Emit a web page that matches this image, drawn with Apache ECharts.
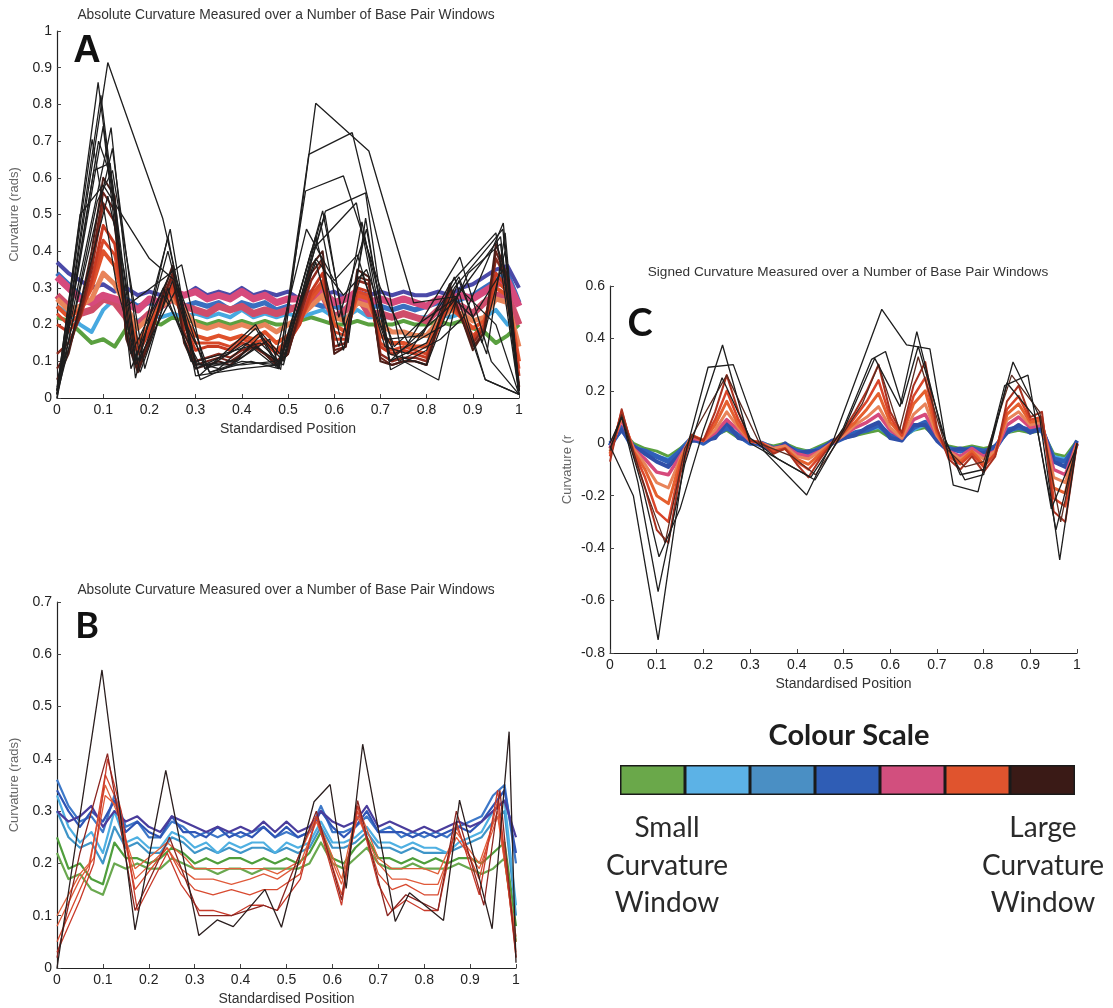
<!DOCTYPE html>
<html><head><meta charset="utf-8">
<script src="https://cdn.jsdelivr.net/npm/echarts@6/dist/echarts.min.js"></script>
<style>html,body{margin:0;padding:0;background:#fff}#c{width:1113px;height:1008px}</style>
</head><body><div id="c"></div>
<script>
// ---------- shared sampling positions (standardised position) ----------
const X41 = [0,0.025,0.05,0.075,0.1,0.125,0.15,0.175,0.2,0.225,0.25,0.275,0.3,0.325,0.35,0.375,0.4,0.425,0.45,0.475,0.5,0.525,0.55,0.575,0.6,0.625,0.65,0.675,0.7,0.725,0.75,0.775,0.8,0.825,0.85,0.875,0.9,0.925,0.95,0.975,1];

// ---------- Panel A: absolute curvature ----------
const A_green = [0.22,0.21,0.18,0.15,0.16,0.14,0.19,0.20,0.21,0.20, 0.22,0.21,0.21,0.20,0.21,0.20,0.21,0.20,0.21,0.20, 0.20,0.21,0.22,0.21,0.20,0.20,0.21,0.20,0.20,0.20, 0.21,0.20,0.20,0.21,0.20,0.21,0.19,0.18,0.15,0.17, 0.20];
const A_lblue = [0.25,0.23,0.20,0.18,0.24,0.27,0.22,0.21,0.23,0.22, 0.23,0.22,0.23,0.22,0.23,0.22,0.24,0.22,0.23,0.22, 0.23,0.22,0.23,0.24,0.22,0.22,0.24,0.22,0.22,0.22, 0.23,0.22,0.22,0.23,0.22,0.23,0.21,0.22,0.24,0.20, 0.22];
const A_blue = [0.34,0.31,0.28,0.26,0.27,0.26,0.27,0.25,0.26,0.25, 0.27,0.25,0.26,0.25,0.26,0.24,0.26,0.25,0.26,0.24, 0.25,0.24,0.26,0.25,0.25,0.24,0.26,0.25,0.25,0.24, 0.25,0.24,0.25,0.26,0.25,0.27,0.28,0.30,0.32,0.34, 0.26];
const A_purple = [0.37,0.34,0.32,0.30,0.31,0.29,0.30,0.28,0.29,0.28, 0.30,0.28,0.30,0.28,0.29,0.28,0.30,0.28,0.29,0.28, 0.29,0.27,0.29,0.28,0.29,0.27,0.29,0.28,0.29,0.28, 0.29,0.28,0.28,0.29,0.28,0.30,0.31,0.33,0.35,0.36, 0.30];
const A_pink1 = [0.33,0.30,0.27,0.26,0.28,0.27,0.26,0.24,0.27,0.26, 0.29,0.28,0.29,0.27,0.28,0.27,0.29,0.27,0.28,0.26, 0.27,0.27,0.28,0.29,0.26,0.27,0.29,0.26,0.27,0.26, 0.27,0.26,0.25,0.27,0.27,0.28,0.27,0.29,0.31,0.32, 0.25];
const A_pink2 = [0.28,0.25,0.23,0.24,0.27,0.26,0.22,0.20,0.23,0.25, 0.27,0.25,0.24,0.23,0.25,0.24,0.25,0.23,0.24,0.23, 0.24,0.25,0.27,0.28,0.22,0.24,0.28,0.23,0.23,0.22, 0.23,0.22,0.21,0.24,0.25,0.25,0.23,0.26,0.28,0.28, 0.20];
const A_salmon = [0.27,0.24,0.25,0.27,0.34,0.31,0.25,0.19,0.22,0.25, 0.27,0.24,0.20,0.19,0.20,0.19,0.20,0.19,0.20,0.18, 0.20,0.22,0.25,0.28,0.22,0.21,0.26,0.25,0.20,0.18, 0.18,0.17,0.17,0.21,0.24,0.23,0.21,0.22,0.27,0.26, 0.14];
const A_red1 = [0.25,0.22,0.24,0.30,0.40,0.36,0.24,0.15,0.20,0.26, 0.29,0.22,0.17,0.16,0.17,0.16,0.17,0.16,0.18,0.15, 0.17,0.21,0.27,0.31,0.20,0.18,0.28,0.27,0.17,0.15, 0.15,0.14,0.14,0.20,0.25,0.22,0.19,0.21,0.30,0.28, 0.10];
const A_red1b = [0.23,0.20,0.23,0.31,0.43,0.39,0.23,0.13,0.19,0.25, 0.30,0.21,0.15,0.15,0.15,0.14,0.16,0.15,0.16,0.13, 0.16,0.20,0.28,0.32,0.18,0.17,0.29,0.28,0.15,0.13, 0.14,0.13,0.12,0.19,0.26,0.22,0.17,0.20,0.32,0.29, 0.08];
const A_red2 = [0.20,0.18,0.22,0.32,0.47,0.42,0.22,0.12,0.18,0.25, 0.31,0.20,0.13,0.14,0.14,0.13,0.15,0.14,0.15,0.12, 0.15,0.20,0.29,0.34,0.16,0.16,0.30,0.29,0.14,0.12, 0.13,0.12,0.11,0.19,0.27,0.22,0.16,0.20,0.34,0.30, 0.06];
const A_red3 = [0.12,0.15,0.22,0.35,0.53,0.48,0.18,0.09,0.16,0.26, 0.33,0.18,0.10,0.11,0.12,0.11,0.13,0.14,0.12,0.10, 0.13,0.22,0.32,0.37,0.14,0.15,0.32,0.31,0.12,0.10, 0.11,0.11,0.10,0.20,0.29,0.22,0.15,0.19,0.38,0.32, 0.03];
const A_dred = [0.08,0.13,0.23,0.37,0.56,0.51,0.17,0.08,0.15,0.26, 0.34,0.16,0.09,0.10,0.11,0.10,0.12,0.14,0.12,0.09, 0.12,0.23,0.34,0.38,0.13,0.14,0.33,0.32,0.11,0.09, 0.10,0.10,0.09,0.20,0.30,0.22,0.14,0.18,0.40,0.32, 0.02];
const A_brown = [0.05,0.12,0.25,0.40,0.60,0.55,0.16,0.07,0.15,0.27, 0.36,0.15,0.08,0.09,0.10,0.09,0.12,0.15,0.12,0.09, 0.12,0.24,0.36,0.40,0.12,0.14,0.35,0.33,0.10,0.09, 0.10,0.10,0.09,0.20,0.31,0.22,0.13,0.18,0.42,0.33, 0.02];
const A_black = [
  [[0,0.01],[0.11,0.914],[0.229,0.489],[0.307,0.06],[0.43,0.2],[0.484,0.077],[0.56,0.803],[0.675,0.673],[0.772,0.259],[0.866,0.277],[0.927,0.05],[1,0.01]],
  [[0,0.02],[0.089,0.86],[0.15,0.25],[0.27,0.363],[0.32,0.08],[0.41,0.15],[0.48,0.08],[0.545,0.664],[0.639,0.723],[0.70,0.40],[0.75,0.10],[0.826,0.049],[0.87,0.30],[0.95,0.2],[1,0.01]],
  [[0,0.01],[0.095,0.825],[0.17,0.054],[0.24,0.44],[0.3,0.06],[0.4,0.08],[0.48,0.09],[0.538,0.564],[0.62,0.605],[0.7,0.3],[0.76,0.15],[0.872,0.384],[0.94,0.1],[1,0.01]],
  [[0,0.02],[0.076,0.705],[0.13,0.3],[0.18,0.07],[0.25,0.32],[0.31,0.05],[0.38,0.09],[0.44,0.17],[0.49,0.1],[0.581,0.509],[0.668,0.559],[0.72,0.1],[0.8,0.15],[0.86,0.33],[0.927,0.05],[1,0.01]],
  [[0,0.01],[0.10,0.741],[0.16,0.08],[0.23,0.3],[0.3,0.08],[0.37,0.12],[0.43,0.19],[0.48,0.08],[0.55,0.4],[0.648,0.532],[0.70,0.2],[0.74,0.1],[0.83,0.16],[0.88,0.22],[0.966,0.477],[1,0.01]],
  [[0,0.03],[0.117,0.737],[0.17,0.1],[0.245,0.46],[0.28,0.2],[0.33,0.07],[0.42,0.1],[0.48,0.08],[0.575,0.51],[0.63,0.15],[0.668,0.49],[0.722,0.077],[0.8,0.13],[0.86,0.3],[0.965,0.46],[1,0.02]],
  [[0,0.0],[0.087,0.536],[0.12,0.62],[0.19,0.08],[0.24,0.3],[0.29,0.1],[0.35,0.08],[0.44,0.18],[0.49,0.11],[0.58,0.5],[0.62,0.2],[0.66,0.48],[0.72,0.1],[0.78,0.17],[0.85,0.25],[0.96,0.44],[1,0.02]],
  [[0,0.02],[0.05,0.5],[0.1,0.58],[0.2,0.38],[0.255,0.32],[0.3,0.09],[0.4,0.09],[0.47,0.1],[0.54,0.46],[0.6,0.32],[0.65,0.39],[0.71,0.14],[0.76,0.12],[0.87,0.33],[0.92,0.15],[0.97,0.4],[1,0.03]],
  [[0,0.01],[0.09,0.7],[0.12,0.59],[0.17,0.09],[0.26,0.3],[0.32,0.08],[0.4,0.11],[0.46,0.16],[0.48,0.09],[0.56,0.44],[0.62,0.13],[0.665,0.44],[0.73,0.12],[0.84,0.2],[0.89,0.34],[0.96,0.42],[1,0.01]],
  [[0,0.02],[0.12,0.68],[0.18,0.1],[0.23,0.28],[0.31,0.09],[0.39,0.1],[0.43,0.14],[0.49,0.09],[0.57,0.48],[0.61,0.22],[0.67,0.46],[0.72,0.12],[0.8,0.09],[0.87,0.32],[0.93,0.12],[0.97,0.45],[1,0.02]],
  [[0,0.01],[0.11,0.55],[0.145,0.35],[0.175,0.1],[0.24,0.4],[0.3,0.1],[0.36,0.12],[0.44,0.15],[0.48,0.1],[0.56,0.38],[0.62,0.28],[0.67,0.35],[0.73,0.14],[0.78,0.2],[0.86,0.27],[0.9,0.22],[0.965,0.35],[1,0.04]],
  [[0,0.0],[0.08,0.62],[0.115,0.64],[0.16,0.12],[0.25,0.35],[0.33,0.07],[0.4,0.1],[0.48,0.09],[0.56,0.37],[0.61,0.14],[0.66,0.34],[0.71,0.16],[0.79,0.17],[0.85,0.31],[0.95,0.45],[1,0.01]]
];

// ---------- Panel B: absolute curvature ----------
const B_green2 = [0.22,0.17,0.18,0.15,0.14,0.20,0.19,0.20,0.19,0.19, 0.21,0.20,0.19,0.19,0.18,0.19,0.19,0.18,0.19,0.19, 0.19,0.19,0.20,0.24,0.20,0.19,0.21,0.23,0.20,0.19, 0.19,0.20,0.19,0.19,0.19,0.20,0.19,0.18,0.19,0.21, 0.05];
const B_green1 = [0.25,0.19,0.20,0.17,0.16,0.24,0.21,0.21,0.20,0.21, 0.23,0.22,0.20,0.21,0.20,0.21,0.21,0.20,0.21,0.20, 0.21,0.20,0.22,0.26,0.21,0.20,0.23,0.25,0.21,0.21, 0.20,0.21,0.20,0.21,0.20,0.21,0.21,0.20,0.22,0.24, 0.08];
const B_teal = [0.30,0.25,0.23,0.24,0.20,0.27,0.23,0.24,0.22,0.22, 0.25,0.24,0.22,0.23,0.22,0.23,0.22,0.23,0.23,0.22, 0.23,0.22,0.23,0.27,0.23,0.23,0.24,0.26,0.23,0.23, 0.22,0.23,0.22,0.22,0.22,0.23,0.24,0.25,0.28,0.30, 0.10];
const B_lblue = [0.33,0.27,0.24,0.26,0.22,0.30,0.24,0.25,0.23,0.23, 0.26,0.25,0.23,0.24,0.22,0.24,0.23,0.24,0.24,0.22, 0.24,0.23,0.24,0.28,0.24,0.24,0.25,0.27,0.24,0.24, 0.23,0.24,0.23,0.23,0.22,0.24,0.25,0.26,0.30,0.32, 0.12];
const B_blue2 = [0.36,0.31,0.28,0.29,0.26,0.33,0.27,0.28,0.25,0.25, 0.28,0.27,0.25,0.26,0.25,0.26,0.25,0.26,0.27,0.25, 0.26,0.25,0.26,0.31,0.26,0.26,0.27,0.29,0.26,0.27, 0.25,0.26,0.25,0.26,0.25,0.27,0.28,0.29,0.33,0.35, 0.20];
const B_blue = [0.34,0.30,0.27,0.30,0.28,0.32,0.26,0.28,0.26,0.25, 0.29,0.26,0.26,0.25,0.27,0.25,0.26,0.25,0.27,0.25, 0.27,0.25,0.26,0.30,0.27,0.25,0.27,0.30,0.26,0.26, 0.26,0.25,0.26,0.25,0.26,0.27,0.26,0.28,0.31,0.34, 0.22];
const B_purple = [0.30,0.28,0.29,0.31,0.27,0.30,0.28,0.29,0.27,0.26, 0.29,0.28,0.27,0.26,0.27,0.26,0.27,0.26,0.28,0.26, 0.28,0.26,0.27,0.30,0.28,0.27,0.28,0.31,0.27,0.28, 0.27,0.26,0.27,0.26,0.27,0.28,0.27,0.28,0.30,0.32, 0.25];
const B_red1 = [[0,0.10],[0.05,0.18],[0.07,0.20],[0.105,0.35],[0.13,0.30],[0.17,0.19],[0.24,0.24],[0.28,0.21],[0.3,0.19],[0.34,0.19],[0.38,0.19],[0.42,0.19],[0.45,0.19],[0.48,0.18],[0.52,0.20],[0.565,0.29],[0.62,0.17],[0.655,0.31],[0.7,0.21],[0.73,0.19],[0.76,0.19],[0.8,0.19],[0.83,0.18],[0.87,0.26],[0.92,0.20],[0.96,0.30],[1,0.05]];
const B_red2 = [[0,0.05],[0.05,0.15],[0.07,0.19],[0.105,0.37],[0.13,0.32],[0.17,0.15],[0.24,0.23],[0.27,0.18],[0.3,0.15],[0.34,0.14],[0.38,0.15],[0.42,0.14],[0.45,0.15],[0.48,0.15],[0.53,0.18],[0.565,0.29],[0.62,0.14],[0.655,0.30],[0.7,0.18],[0.73,0.15],[0.76,0.16],[0.8,0.14],[0.83,0.14],[0.87,0.27],[0.92,0.17],[0.96,0.32],[1,0.03]];
const B_red3 = [[0,0.03],[0.05,0.13],[0.08,0.20],[0.11,0.40],[0.14,0.30],[0.175,0.11],[0.24,0.22],[0.27,0.16],[0.31,0.11],[0.34,0.11],[0.38,0.10],[0.42,0.12],[0.45,0.12],[0.48,0.11],[0.53,0.17],[0.565,0.29],[0.62,0.12],[0.655,0.31],[0.7,0.16],[0.73,0.11],[0.76,0.13],[0.8,0.11],[0.83,0.11],[0.87,0.28],[0.92,0.14],[0.96,0.34],[1,0.02]];
const B_red4 = [[0,0.08],[0.05,0.17],[0.08,0.21],[0.105,0.33],[0.13,0.31],[0.17,0.17],[0.24,0.23],[0.27,0.19],[0.3,0.17],[0.34,0.17],[0.38,0.16],[0.42,0.17],[0.45,0.18],[0.48,0.17],[0.53,0.20],[0.565,0.28],[0.62,0.16],[0.655,0.29],[0.7,0.20],[0.73,0.17],[0.76,0.17],[0.8,0.16],[0.83,0.16],[0.87,0.25],[0.92,0.19],[0.96,0.29],[1,0.06]];
const B_dred = [[0,0.02],[0.05,0.22],[0.11,0.41],[0.17,0.11],[0.245,0.25],[0.31,0.10],[0.38,0.10],[0.45,0.12],[0.48,0.11],[0.565,0.30],[0.62,0.13],[0.655,0.32],[0.72,0.10],[0.76,0.14],[0.83,0.11],[0.87,0.30],[0.93,0.12],[0.965,0.34],[1,0.02]];
const B_black = [[0,0.0],[0.098,0.57],[0.17,0.073],[0.237,0.378],[0.309,0.062],[0.349,0.092],[0.384,0.079],[0.453,0.15],[0.489,0.078],[0.56,0.318],[0.595,0.351],[0.63,0.152],[0.666,0.428],[0.737,0.089],[0.768,0.144],[0.842,0.091],[0.877,0.321],[0.948,0.075],[0.985,0.452],[1,0.01]];

// ---------- Panel C: signed curvature ----------
const C_green = [0.00,0.05,0.00,-0.02,-0.03,-0.05,-0.02,0.02,0.01,0.03, 0.05,0.02,0.01,0.00,-0.01,0.00,-0.02,-0.03,-0.01,0.01, 0.02,0.03,0.04,0.05,0.02,0.02,0.05,0.06,0.02,-0.01, -0.02,-0.01,-0.02,-0.01,0.04,0.05,0.04,0.05,-0.04,-0.05, 0.01];
const C_lblue = [-0.01,0.05,-0.01,-0.03,-0.05,-0.06,-0.03,0.02,0.01,0.03, 0.06,0.03,0.00,0.00,-0.02,-0.01,-0.03,-0.03,-0.02,0.00, 0.02,0.04,0.05,0.06,0.03,0.02,0.05,0.07,0.02,-0.02, -0.03,-0.02,-0.03,-0.02,0.04,0.06,0.05,0.05,-0.05,-0.06, 0.00];
const C_blue = [-0.01,0.06,-0.02,-0.03,-0.05,-0.07,-0.03,0.02,0.00,0.03, 0.06,0.03,0.00,0.00,-0.02,-0.01,-0.03,-0.04,-0.02,0.00, 0.02,0.04,0.05,0.07,0.03,0.02,0.06,0.08,0.02,-0.02, -0.03,-0.02,-0.03,-0.02,0.05,0.06,0.05,0.05,-0.06,-0.07, 0.00];
const C_blue2 = [0.00,0.05,-0.01,-0.04,-0.07,-0.09,-0.04,0.01,0.01,0.02, 0.08,0.02,0.01,-0.01,-0.03,0.00,-0.04,-0.03,-0.03,0.01, 0.02,0.03,0.06,0.08,0.02,0.01,0.07,0.07,0.01,-0.03, -0.02,-0.03,-0.04,-0.01,0.04,0.07,0.04,0.06,-0.07,-0.09, 0.01];
const C_pink = [-0.02,0.09,-0.02,-0.06,-0.11,-0.12,-0.05,0.02,0.01,0.04, 0.09,0.05,0.01,0.00,-0.02,-0.01,-0.04,-0.05,-0.03,0.00, 0.03,0.06,0.08,0.11,0.05,0.02,0.09,0.11,0.03,-0.03, -0.05,-0.02,-0.05,-0.03,0.07,0.10,0.06,0.07,-0.10,-0.12, 0.00];
const C_salmon = [-0.03,0.10,-0.02,-0.08,-0.15,-0.17,-0.06,0.03,0.01,0.05, 0.12,0.06,0.01,0.00,-0.02,-0.01,-0.05,-0.06,-0.03,0.00, 0.03,0.07,0.10,0.14,0.06,0.02,0.11,0.15,0.03,-0.03, -0.06,-0.03,-0.06,-0.03,0.09,0.12,0.07,0.08,-0.13,-0.15, 0.00];
const C_orange = [-0.04,0.11,-0.03,-0.10,-0.20,-0.23,-0.07,0.03,0.01,0.07, 0.16,0.07,0.01,0.00,-0.03,-0.02,-0.06,-0.08,-0.04,0.00, 0.04,0.08,0.13,0.19,0.08,0.03,0.15,0.20,0.04,-0.04, -0.07,-0.03,-0.08,-0.04,0.11,0.15,0.08,0.09,-0.17,-0.19, 0.00];
const C_red = [-0.05,0.12,-0.03,-0.13,-0.26,-0.30,-0.09,0.03,0.01,0.09, 0.20,0.09,0.01,0.00,-0.03,-0.02,-0.07,-0.10,-0.05,0.00, 0.04,0.10,0.16,0.24,0.10,0.03,0.18,0.25,0.05,-0.05, -0.08,-0.04,-0.09,-0.04,0.13,0.18,0.09,0.10,-0.21,-0.24, 0.00];
const C_dred = [-0.07,0.13,-0.04,-0.17,-0.33,-0.38,-0.12,0.03,0.01,0.12, 0.26,0.12,0.01,0.00,-0.04,-0.02,-0.08,-0.13,-0.06,0.00, 0.05,0.12,0.20,0.30,0.12,0.04,0.22,0.31,0.06,-0.06, -0.10,-0.05,-0.11,-0.05,0.16,0.22,0.10,0.12,-0.26,-0.30, 0.00];
const C_brown = [[0,-0.03],[0.025,0.11],[0.075,-0.17],[0.118,-0.38],[0.16,-0.02],[0.25,0.26],[0.32,0.0],[0.39,-0.05],[0.44,-0.12],[0.5,0.04],[0.54,0.15],[0.575,0.30],[0.62,0.05],[0.66,0.33],[0.72,-0.02],[0.76,-0.09],[0.8,-0.07],[0.86,0.26],[0.92,0.12],[0.965,-0.30],[1,0.0]];
const C_black = [
  [[0,-0.01],[0.05,-0.2],[0.103,-0.75],[0.16,-0.05],[0.21,0.29],[0.264,0.30],[0.33,-0.03],[0.421,-0.197],[0.48,0.02],[0.582,0.511],[0.635,0.375],[0.685,0.36],[0.735,-0.16],[0.788,-0.185],[0.845,0.22],[0.895,0.26],[0.945,-0.25],[1,-0.01]],
  [[0,0.0],[0.025,0.1],[0.06,-0.15],[0.103,-0.566],[0.16,-0.08],[0.20,0.15],[0.241,0.375],[0.3,0.0],[0.35,-0.05],[0.439,-0.14],[0.5,0.05],[0.567,0.324],[0.621,0.14],[0.657,0.426],[0.71,0.05],[0.75,-0.12],[0.80,-0.10],[0.863,0.31],[0.92,0.1],[0.963,-0.445],[1,0.0]],
  [[0,-0.02],[0.025,0.1],[0.07,-0.17],[0.105,-0.433],[0.15,-0.25],[0.2,0.05],[0.24,0.25],[0.3,0.02],[0.36,-0.06],[0.43,-0.13],[0.5,0.06],[0.56,0.32],[0.59,0.35],[0.625,0.15],[0.66,0.37],[0.72,0.0],[0.76,-0.14],[0.8,-0.12],[0.85,0.23],[0.91,0.10],[0.955,-0.33],[1,0.0]]
];

// ---------- Colour scale ----------
const scaleColours = ['#6aa84a','#5cb2e6','#4a8fc4','#2f5db5','#d24f7e','#e0542e','#3a1a16'];
const scaleSegments = [1,1,1,1,1,1,1];
const xTicks = {min:0, max:1, interval:0.1};

const chart = echarts.init(document.getElementById('c'), null, {renderer:'canvas'});
const FONT = 'Liberation Sans';

function fine(g, arr, color, width, op) {
  return {type:'line', xAxisIndex:g, yAxisIndex:g, data:X41.map((x,i)=>[x,arr[i]]),
    symbol:'none', showSymbol:false, silent:true, animation:false,
    lineStyle:{color:color, width:width, opacity:op==null?1:op, join:'round'}};
}
function pts(g, arr, color, width, op) {
  return {type:'line', xAxisIndex:g, yAxisIndex:g, data:arr,
    symbol:'none', showSymbol:false, silent:true, animation:false,
    lineStyle:{color:color, width:width, opacity:op==null?1:op}};
}
function xAx(g) {
  return {type:'value', gridIndex:g, min:xTicks.min, max:xTicks.max, interval:xTicks.interval,
    name:'Standardised Position', nameLocation:'middle', nameGap:24,
    nameTextStyle:{fontFamily:FONT, fontSize:14, color:'#333'},
    axisLine:{show:true, onZero:false, lineStyle:{color:'#222', width:1.2}},
    axisTick:{show:true, inside:true, length:4, lineStyle:{color:'#444'}},
    axisLabel:{fontFamily:FONT, fontSize:14, color:'#222', margin:5},
    splitLine:{show:false}};
}
function yAx(g, min, max, interval, name) {
  return {type:'value', gridIndex:g, min:min, max:max, interval:interval,
    name:name, nameLocation:'middle', nameGap:36,
    nameTextStyle:{fontFamily:FONT, fontSize:13, color:'#666'},
    axisLine:{show:true, onZero:false, lineStyle:{color:'#222', width:1.2}},
    axisTick:{show:true, inside:true, length:4, lineStyle:{color:'#444'}},
    axisLabel:{fontFamily:FONT, fontSize:14, color:'#222', margin:5},
    splitLine:{show:false}};
}

const series = [];
// Panel A (grid 0)
series.push(fine(0, A_green, '#5aa040', 4));
series.push(fine(0, A_lblue, '#47a9e0', 4));
series.push(fine(0, A_blue, '#3a6fc0', 5));
series.push(fine(0, A_purple, '#4b4aa8', 4));
series.push(fine(0, A_pink2, '#cf4d6a', 7));
series.push(fine(0, A_pink1, '#d64a7c', 7));
series.push(fine(0, A_salmon, '#e8845a', 5));
series.push(fine(0, A_red1, '#e0522c', 4));
series.push(fine(0, A_red1b, '#d8482a', 3));
series.push(fine(0, A_red2, '#c83a22', 3));
series.push(fine(0, A_red3, '#8c2a1e', 2.5));
series.push(fine(0, A_dred, '#6a2219', 2));
series.push(fine(0, A_brown, '#4a1e18', 2));
A_black.forEach(l => series.push(pts(0, l, '#1e1e1e', 1.3)));
// Panel B (grid 1)
series.push(fine(1, B_green2, '#6aa84f', 2.2));
series.push(fine(1, B_green1, '#4f9e3c', 2.2));
series.push(fine(1, B_teal, '#3f95c8', 2.2));
series.push(fine(1, B_lblue, '#4fb0e2', 2.2));
series.push(fine(1, B_blue2, '#3d78c8', 2.2));
series.push(fine(1, B_blue, '#2f55b5', 2.2));
series.push(fine(1, B_purple, '#4a3d9c', 2.2));
series.push(pts(1, B_red1, '#e0603a', 1.3));
series.push(pts(1, B_red4, '#e05a3a', 1.3));
series.push(pts(1, B_red2, '#d84a30', 1.3));
series.push(pts(1, B_red3, '#c83a2a', 1.3));
series.push(pts(1, B_dred, '#8a2520', 1.3));
series.push(pts(1, B_black, '#2a1e1e', 1.3));
// Panel C (grid 2)
series.push(fine(2, C_green, '#5aa040', 3));
series.push(fine(2, C_lblue, '#47a9e0', 3));
series.push(fine(2, C_blue, '#2f5fb8', 5));
series.push(fine(2, C_blue2, '#2f4fa8', 4));
series.push(fine(2, C_pink, '#d64a7c', 3.5));
series.push(fine(2, C_salmon, '#e8845a', 3));
series.push(fine(2, C_orange, '#e5602f', 3));
series.push(fine(2, C_red, '#d9452a', 2.5));
series.push(fine(2, C_dred, '#a8301f', 2));
series.push(pts(2, C_brown, '#5a2a20', 1.3));
C_black.forEach(l => series.push(pts(2, l, '#1e1e1e', 1.3)));
// Colour scale (grid 3)
scaleColours.forEach((c,i) => series.push({type:'bar', xAxisIndex:3, yAxisIndex:3, stack:'scale',
  data:[scaleSegments[i]], barWidth:'100%', silent:true, animation:false,
  itemStyle:{color:c, borderColor:'#1a1a1a', borderWidth:1.5}}));

function txt(text, x, y, font, fill) {
  return {type:'text', x:x, y:y, silent:true,
    style:{text:text, font:font, fill:fill, align:'center', verticalAlign:'middle',
      textAlign:'center', textVerticalAlign:'middle'}};
}

chart.setOption({
  backgroundColor:'#ffffff',
  animation:false,
  grid:[
    {left:57, top:31, width:462, height:367, containLabel:false},
    {left:57, top:602, width:459, height:366, containLabel:false},
    {left:610, top:286, width:467, height:367, containLabel:false},
    {left:620, top:765, width:455, height:30, containLabel:false}
  ],
  xAxis:[xAx(0), xAx(1), xAx(2),
    {type:'value', gridIndex:3, min:0, max:7, show:false}],
  yAxis:[yAx(0,0,1,0.1,'Curvature (rads)'), yAx(1,0,0.7,0.1,'Curvature (rads)'), yAx(2,-0.8,0.6,0.2,'Curvature (r'),
    {type:'category', gridIndex:3, data:['scale'], show:false}],
  series:series,
  graphic:[
    txt('Absolute Curvature Measured over a Number of Base Pair Windows', 286, 15, '13.8px '+FONT, '#333'),
    txt('Absolute Curvature Measured over a Number of Base Pair Windows', 286, 590, '13.8px '+FONT, '#333'),
    txt('Signed Curvature Measured over a Number of Base Pair Windows', 848, 272, '13.6px '+FONT, '#333'),
    txt('A', 87, 52, 'bold 38px '+FONT, '#111'),
    txt('B', 87, 626, 'bold 36px Lato', '#111'),
    txt('C', 640, 324, 'bold 38px Lato', '#111'),
    txt('Colour Scale', 849, 736, 'bold 29px Lato', '#1e1e1e'),
    txt('Small', 667, 828, '28px Lato', '#2a2a2a'),
    txt('Curvature', 667, 866, '28px Lato', '#2a2a2a'),
    txt('Window', 667, 903, '28px Lato', '#2a2a2a'),
    txt('Large', 1043, 828, '28px Lato', '#2a2a2a'),
    txt('Curvature', 1043, 866, '28px Lato', '#2a2a2a'),
    txt('Window', 1043, 903, '28px Lato', '#2a2a2a')
  ]
});
</script>
</body></html>
